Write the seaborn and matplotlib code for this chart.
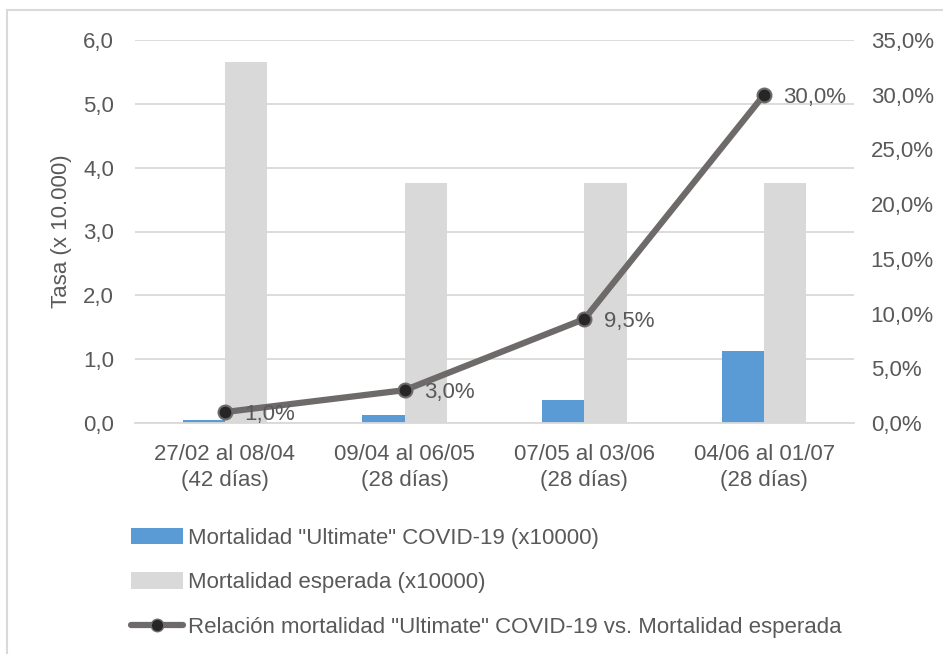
import numpy as np
import pandas as pd
import matplotlib
matplotlib.use("Agg")
import matplotlib.pyplot as plt
import seaborn as sns
from matplotlib.lines import Line2D
from matplotlib.patches import Patch, Rectangle

# data
periodos = ["27/02 al 08/04\n(42 días)", "09/04 al 06/05\n(28 días)",
            "07/05 al 03/06\n(28 días)", "04/06 al 01/07\n(28 días)"]
mort_covid = [0.05, 0.12, 0.36, 1.13]
mort_esperada = [5.66, 3.76, 3.76, 3.76]
relacion = [1.0, 3.0, 9.5, 30.0]

serie_covid = 'Mortalidad "Ultimate" COVID-19 (x10000)'
serie_esp = "Mortalidad esperada (x10000)"
serie_rel = 'Relación mortalidad "Ultimate" COVID-19 vs. Mortalidad esperada'

azul = "#5b9bd5"
gris_bar = "#d9d9d9"
gris_linea = "#6e6a6a"
texto = "#595959"
fs = 16

sns.set_theme(style="white")
plt.rcParams["font.family"] = ["Liberation Sans", "DejaVu Sans"]

df = pd.DataFrame({
    "periodo": periodos * 2,
    "tasa": mort_covid + mort_esperada,
    "serie": [serie_covid] * 4 + [serie_esp] * 4,
})

fig = plt.figure(figsize=(9.43, 6.54), dpi=100)
ax = fig.add_axes([135 / 943, 1 - 423 / 654, 719 / 943, 383 / 654])

sns.barplot(data=df, x="periodo", y="tasa", hue="serie",
            palette=[azul, gris_bar], width=0.47, ax=ax, legend=False,
            saturation=1, edgecolor="none")

ax.set_ylim(0, 6)
ax.set_yticks(np.arange(0, 6.01, 1))
ax.set_yticklabels([f"{v:.1f}".replace(".", ",") for v in np.arange(0, 6.01, 1)])
ax.yaxis.grid(True, color="#d9d9d9", linewidth=1.3)
ax.set_axisbelow(True)
ax.set_xlabel("")
ax.set_ylabel("Tasa (x 10.000)", color=texto, fontsize=fs, labelpad=8)
for s in ax.spines.values():
    s.set_visible(False)
ax.spines["bottom"].set_visible(True)
ax.spines["bottom"].set_color("#d9d9d9")
ax.spines["bottom"].set_linewidth(1.3)
ax.tick_params(axis="both", colors=texto, labelsize=fs, length=0)
ax.tick_params(axis="y", pad=15)
ax.tick_params(axis="x", pad=15)
for lbl in ax.get_xticklabels():
    lbl.set_linespacing(1.35)
ax.set_xlim(-0.5, 3.5)

ax2 = ax.twinx()
ax2.set_ylim(0, 35)
sns.lineplot(x=list(range(4)), y=relacion, ax=ax2, color=gris_linea,
             linewidth=4.5, marker="o", markersize=10,
             markerfacecolor="#262626", markeredgecolor=gris_linea,
             markeredgewidth=1.5, legend=False)
ax2.set_yticks(np.arange(0, 35.1, 5))
ax2.set_yticklabels([f"{v:.1f}%".replace(".", ",") for v in np.arange(0, 35.1, 5)])
ax2.tick_params(axis="y", colors=texto, labelsize=fs, length=0, pad=12)
ax2.set_ylabel("")
for s in ax2.spines.values():
    s.set_visible(False)
ax2.grid(False)

for i, v in enumerate(relacion):
    ax2.annotate(f"{v:.1f}%".replace(".", ","), (i, v), xytext=(14, -2),
                 textcoords="offset points", ha="left", va="center",
                 color=texto, fontsize=fs)

handles = [Patch(facecolor=azul, edgecolor="none"),
           Patch(facecolor=gris_bar, edgecolor="none"),
           Line2D([], [], color=gris_linea, linewidth=4.5, marker="o",
                  markersize=9, markerfacecolor="#262626",
                  markeredgecolor=gris_linea)]
fig.legend(handles, [serie_covid, serie_esp, serie_rel],
           loc="upper left", bbox_to_anchor=(131 / 943, 1 - 528 / 654),
           frameon=False, fontsize=fs, labelcolor=texto,
           handlelength=2.35, handleheight=0.75, handletextpad=0.2,
           labelspacing=1.05, borderaxespad=0, borderpad=0)

# thin frame around the chart area, cut off on the right and bottom
fig.patches.append(Rectangle((7 / 943, -0.1), 1.2, 1 - 10 / 654 + 0.1,
                             transform=fig.transFigure, fill=False,
                             edgecolor="#d9d9d9", linewidth=1.5))

fig.savefig("out.png", dpi=100)
